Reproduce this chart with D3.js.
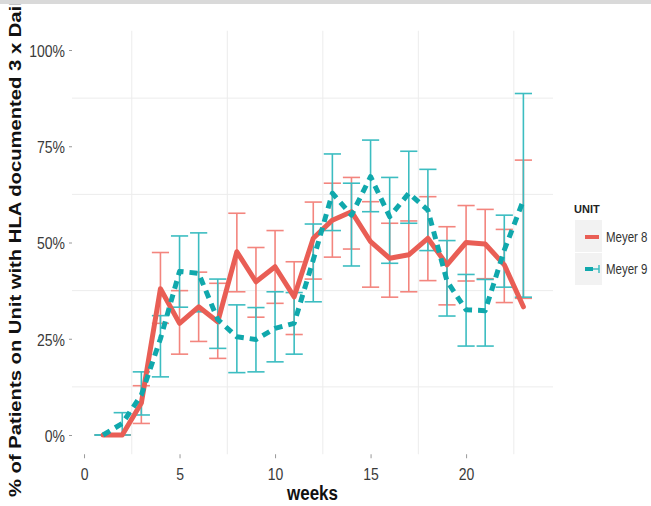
<!DOCTYPE html>
<html><head><meta charset="utf-8">
<script src="https://cdn.jsdelivr.net/npm/d3@7"></script>
<style>body{margin:0;background:#fff;}svg{display:block;font-family:"Liberation Sans",Arial,sans-serif;}</style>
</head><body><svg id="c" width="651" height="506"></svg>
<script>
const weeks = [1,2,3,4,5,6,7,8,9,10,11,12,13,14,15,16,17,18,19,20,21,22,23];
const m8   = [0,0,0.083,0.38,0.29,0.333,0.294,0.476,0.398,0.437,0.359,0.511,0.558,0.58,0.502,0.459,0.468,0.511,0.442,0.50,0.496,0.442,0.333];
const m8lo = [0,0,0.03,0.29,0.21,0.243,0.199,0.372,0.306,0.342,0.261,0.405,0.462,0.483,0.384,0.358,0.372,0.401,0.338,0.40,0.406,0.344,0.355];
const m8hi = [0,0,0.128,0.474,0.375,0.423,0.394,0.576,0.487,0.531,0.45,0.605,0.654,0.669,0.606,0.55,0.556,0.619,0.541,0.596,0.586,0.534,0.714];
const m9   = [0,0.03,0.104,0.25,0.425,0.42,0.30,0.255,0.248,0.277,0.29,0.455,0.628,0.571,0.671,0.567,0.628,0.584,0.40,0.325,0.323,0.48,0.61];
const m9lo = [0,0,0.052,0.151,0.332,0.32,0.225,0.162,0.164,0.19,0.21,0.346,0.531,0.439,0.58,0.446,0.55,0.479,0.309,0.231,0.231,0.384,0.358];
const m9hi = [0,0.058,0.164,0.31,0.517,0.525,0.405,0.338,0.331,0.372,0.37,0.548,0.73,0.654,0.766,0.669,0.737,0.69,0.505,0.417,0.404,0.571,0.887];
const xTicks = [0,5,10,15,20];
const yTicks = [0,0.25,0.5,0.75,1];
const xMinor = [2.5,7.5,12.5,17.5,22.5];
const yMinor = [0.125,0.375,0.625,0.875];
const units = ["Meyer 8","Meyer 9"];

const svg = d3.select("#c");
const L=72,R=553,T=30.75,B=454.25;
const x = d3.scaleLinear().domain([-0.63,24.55]).range([L,R]);
const y = d3.scaleLinear().domain([-0.05,1.05]).range([B,T]);

const redLine="#E95E55", redBar="#F3857E", tealLine="#10A8AC", tealBar="#3CBDC1";

// grid
const grid = svg.append("g").attr("stroke","#ececec").attr("stroke-width",1);
grid.selectAll(".vx").data(xMinor).join("line").attr("x1",d=>x(d)).attr("x2",d=>x(d)).attr("y1",T).attr("y2",B);
grid.selectAll(".hy").data(yMinor).join("line").attr("x1",L).attr("x2",R).attr("y1",d=>y(d)).attr("y2",d=>y(d));

// axes
const xa = svg.append("g").attr("transform",`translate(0,${B})`).call(d3.axisBottom(x).tickValues(xTicks).tickSize(4).tickSizeOuter(0));
xa.select(".domain").remove();
xa.selectAll("line").attr("stroke","#999");
xa.selectAll("text").attr("y",0).attr("dy",null).attr("transform","translate(0,25.5) scale(1,1.2)")
  .attr("font-size",14).attr("fill","#3a3a3a").attr("font-family","Liberation Sans, Arial, sans-serif");

const ya = svg.append("g").attr("transform",`translate(${L},0)`).call(d3.axisLeft(y).tickValues(yTicks).tickSize(3).tickSizeOuter(0).tickFormat(d3.format(".0%")));
ya.select(".domain").remove();
ya.selectAll("line").attr("stroke","#999");
ya.selectAll("text").attr("x",0).attr("dy",null).attr("transform","translate(-7,6.3) scale(1,1.2)")
  .attr("font-size",14).attr("fill","#3a3a3a").attr("font-family","Liberation Sans, Arial, sans-serif");

// error bars
function bars(lo,hi,col){
  const g = svg.append("g").attr("stroke",col).attr("stroke-width",1.6).attr("fill","none");
  const hw = 0.45;
  weeks.forEach((w,i)=>{
    g.append("line").attr("x1",x(w)).attr("x2",x(w)).attr("y1",y(lo[i])).attr("y2",y(hi[i]));
    g.append("line").attr("x1",x(w-hw)).attr("x2",x(w+hw)).attr("y1",y(lo[i])).attr("y2",y(lo[i]));
    g.append("line").attr("x1",x(w-hw)).attr("x2",x(w+hw)).attr("y1",y(hi[i])).attr("y2",y(hi[i]));
  });
}
bars(m8lo,m8hi,redBar);
bars(m9lo,m9hi,tealBar);

const line = d3.line().x((d,i)=>x(weeks[i])).y(d=>y(d));
svg.append("path").datum(m8).attr("d",line).attr("fill","none").attr("stroke",redLine)
  .attr("stroke-width",5).attr("stroke-linejoin","round").attr("stroke-linecap","round");
svg.append("path").datum(m9).attr("d",line).attr("fill","none").attr("stroke",tealLine)
  .attr("stroke-width",5).attr("stroke-dasharray","8,6").attr("stroke-linejoin","round");

// axis titles
svg.append("text").text("weeks").attr("transform",`translate(${(L+R)/2},500) scale(1,1.15)`)
  .attr("text-anchor","middle").attr("font-weight","bold").attr("font-size",17).attr("fill","#111");
svg.append("text").text("% of Patients on Unit with HLA documented 3 x Daily")
  .attr("transform","translate(20.5,497) rotate(-90) scale(1.19,1)")
  .attr("font-weight","bold").attr("font-size",17).attr("fill","#111");

// top gray band (over the clipped label)
svg.append("rect").attr("x",0).attr("y",0).attr("width",651).attr("height",4).attr("fill","#d9d9d9");

// legend
const lg = svg.append("g");
lg.append("text").text("UNIT").attr("x",574).attr("y",213).attr("font-weight","bold").attr("font-size",11).attr("fill","#222");
lg.append("rect").attr("x",575).attr("y",220).attr("width",27).attr("height",32).attr("fill","#f2f2f2");
lg.append("rect").attr("x",575).attr("y",253).attr("width",27).attr("height",32).attr("fill","#f2f2f2");
lg.append("line").attr("x1",585).attr("x2",599).attr("y1",237).attr("y2",237).attr("stroke",redLine).attr("stroke-width",4);
lg.append("line").attr("x1",585).attr("x2",593).attr("y1",269).attr("y2",269).attr("stroke",tealLine).attr("stroke-width",4);
lg.append("line").attr("x1",593).attr("x2",599).attr("y1",269).attr("y2",269).attr("stroke",tealBar).attr("stroke-width",1.5);
lg.append("line").attr("x1",599).attr("x2",599).attr("y1",265).attr("y2",273).attr("stroke",tealBar).attr("stroke-width",1.5);
lg.selectAll(".lab").data(units).join("text").text(d=>d)
  .attr("transform",(d,i)=>`translate(606,${241.5+i*32}) scale(1,1.2)`)
  .attr("font-size",11.5).attr("fill","#333");
</script></body></html>
